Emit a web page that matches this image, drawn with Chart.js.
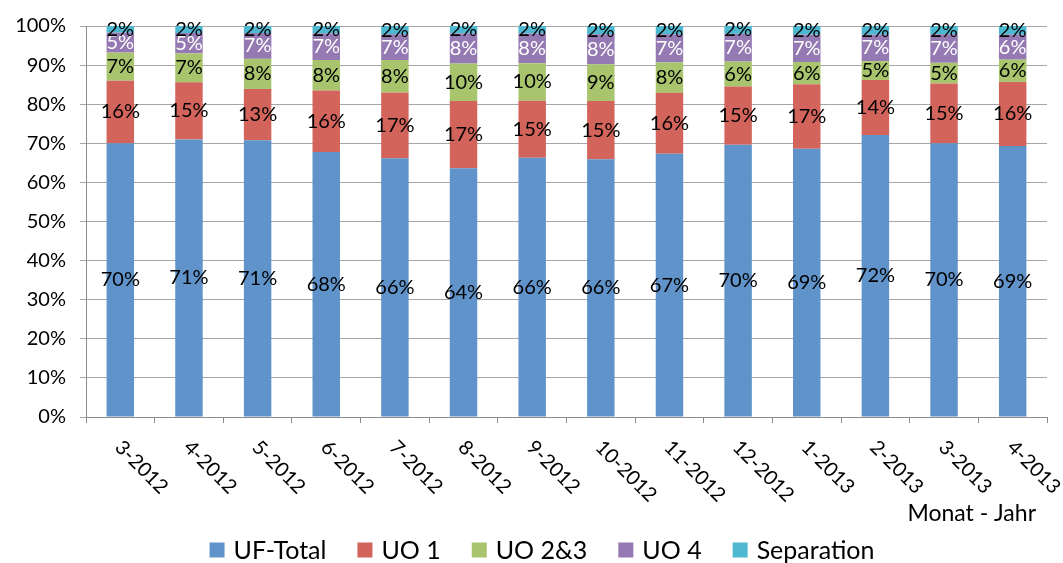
<!DOCTYPE html>
<html>
<head>
<meta charset="utf-8">
<script src="https://cdn.jsdelivr.net/npm/chart.js@4/dist/chart.umd.min.js"></script>
<style>
    html, body { margin: 0; padding: 0; background: #fff; }
    #wrap { width: 1063px; height: 563px; }
</style>
</head>
<body>
<div id="wrap"><canvas id="chart"></canvas></div>
<script>
// Monthly shares (percent of total) per category
const months = ['3-2012', '4-2012', '5-2012', '6-2012', '7-2012', '8-2012', '9-2012',
    '10-2012', '11-2012', '12-2012', '1-2013', '2-2013', '3-2013', '4-2013'];
const ufTotal    = [70.0, 71.0, 70.8, 67.8, 66.2, 63.6, 66.3, 65.9, 67.3, 69.6, 68.6, 72.1, 70.0, 69.3];
const uo1        = [16.0, 14.6, 13.1, 15.7, 16.8, 17.2, 14.6, 14.9, 15.6, 14.9, 16.5, 14.1, 15.3, 16.4];
const uo23       = [7.2, 7.4, 7.7, 7.8, 8.3, 9.6, 9.6, 9.4, 7.8, 6.4, 5.7, 4.8, 5.3, 5.7];
const uo4        = [5.1, 5.2, 6.6, 6.8, 6.6, 7.7, 7.6, 7.7, 7.2, 7.1, 7.0, 6.8, 7.3, 6.4];
const separation = [1.7, 1.8, 1.8, 1.9, 2.1, 1.9, 1.9, 2.1, 2.1, 2.0, 2.2, 2.2, 2.1, 2.2];
const yTicks = [0, 10, 20, 30, 40, 50, 60, 70, 80, 90, 100];
const axisTitle = 'Monat - Jahr';

const FONT = '20px Lato';

// Value labels centred in each segment, rotated month labels, axis title and the legend
const decorations = {
    id: 'decorations',
    afterDatasetsDraw(chart) {
        const ctx = chart.ctx;
        ctx.save();
        ctx.font = FONT;
        ctx.textAlign = 'center';
        ctx.textBaseline = 'middle';
        chart.data.datasets.forEach((ds, i) => {
            chart.getDatasetMeta(i).data.forEach((bar, j) => {
                ctx.fillStyle = ds.labelColor;
                ctx.fillText(Math.round(ds.data[j]) + '%', bar.x, (bar.y + bar.base) / 2);
            });
        });
        ctx.restore();
    },
    afterDraw(chart) {
        const ctx = chart.ctx;
        const xScale = chart.scales.x;
        ctx.save();
        ctx.font = FONT;
        ctx.fillStyle = '#000';

        // month labels, slanting down to the right
        ctx.textAlign = 'left';
        ctx.textBaseline = 'middle';
        chart.data.labels.forEach((label, i) => {
            const x = xScale.getPixelForValue(i);
            ctx.save();
            ctx.translate(x - 2, xScale.top + 27);
            ctx.rotate(Math.PI / 4);
            ctx.fillText(label, 0, 0);
            ctx.restore();
        });

        // axis title, bottom right
        ctx.font = '23px Lato';
        ctx.textAlign = 'right';
        ctx.fillText(axisTitle, 1036, 514);

        // legend
        ctx.font = '25px Lato';
        ctx.textAlign = 'left';
        const box = 15, gapText = 9, gapItem = 31, cy = 550;
        const items = chart.data.datasets.map(ds => ({
            text: ds.label, color: ds.backgroundColor, w: ctx.measureText(ds.label).width
        }));
        const total = items.reduce((s, it) => s + box + gapText + it.w, 0) + gapItem * (items.length - 1);
        let x = 542 - total / 2;
        items.forEach(it => {
            ctx.fillStyle = it.color;
            ctx.fillRect(x, cy - box / 2, box, box);
            ctx.fillStyle = '#000';
            ctx.fillText(it.text, x + box + gapText, cy + 1);
            x += box + gapText + it.w + gapItem;
        });
        ctx.restore();
    }
};

const ctx = document.getElementById('chart').getContext('2d');
Chart.defaults.font.family = 'Lato';

new Chart(ctx, {
    type: 'bar',
    data: {
        labels: months,
        datasets: [
            { label: 'UF-Total',   data: ufTotal,    backgroundColor: '#5F93CA', labelColor: '#000' },
            { label: 'UO 1',       data: uo1,        backgroundColor: '#D3645C', labelColor: '#000' },
            { label: 'UO 2&3',     data: uo23,       backgroundColor: '#A8C56E', labelColor: '#000' },
            { label: 'UO 4',       data: uo4,        backgroundColor: '#9479B3', labelColor: '#fff' },
            { label: 'Separation', data: separation, backgroundColor: '#4DB8CF', labelColor: '#000' }
        ]
    },
    options: {
        responsive: true,
        maintainAspectRatio: false,
        animation: false,
        devicePixelRatio: 1,
        datasets: {
            bar: { barPercentage: 0.4, categoryPercentage: 1.0 }
        },
        layout: {
            padding: { top: 26, right: 16, bottom: 38, left: 0 }
        },
        scales: {
            x: {
                stacked: true,
                grid: { display: true, drawOnChartArea: false, drawTicks: true, tickLength: 6, color: '#8C8C8C' },
                border: { color: '#8C8C8C' },
                ticks: { display: false },
                afterFit: scale => { scale.height = 108; }
            },
            y: {
                stacked: true,
                min: 0,
                max: 100,
                afterBuildTicks: scale => { scale.ticks = yTicks.map(v => ({ value: v })); },
                ticks: {
                    color: '#000',
                    font: { size: 20 },
                    padding: 14,
                    callback: value => value + '%'
                },
                grid: { color: '#A6A6A6', tickLength: 6 },
                border: { color: '#8C8C8C' },
                afterFit: scale => { scale.width = 86; }
            }
        },
        plugins: {
            legend: { display: false },
            tooltip: { enabled: false }
        }
    },
    plugins: [decorations]
});
</script>
</body>
</html>
